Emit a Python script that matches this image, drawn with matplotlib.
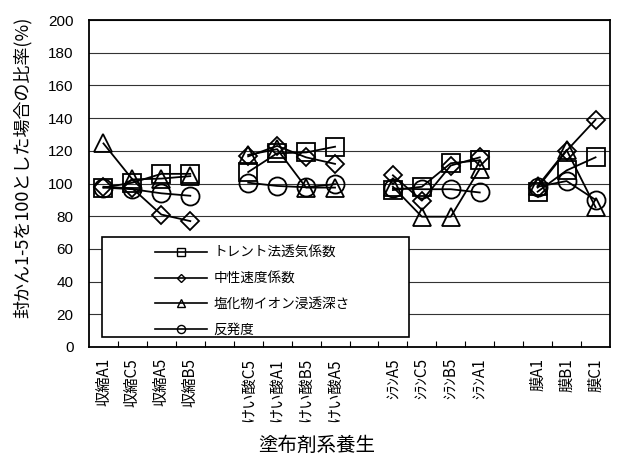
import numpy as np
import matplotlib
matplotlib.use("Agg")
import matplotlib.pyplot as plt
from matplotlib.patches import Rectangle

plt.rcParams['font.family'] = ['Liberation Sans', 'Noto Sans CJK JP', 'DejaVu Sans']

categories = ["収縮A1", "収縮C5", "収縮A5", "収縮B5", "",
              "けい酸C5", "けい酸A1", "けい酸B5", "けい酸A5", "",
              "ｼﾗﾝA5", "ｼﾗﾝC5", "ｼﾗﾝB5", "ｼﾗﾝA1", "",
              "膜A1", "膜B1", "膜C1"]
nan = np.nan
torrent = [97.5, 100.5, 105.9, 105.9, nan, 107, 118.5, 119, 122.5, nan,
           96, 98, 112.4, 114.2, nan, 95, 108, 116]
neutral = [98, 97, 81, 77, nan, 116.6, 123, 116, 112, nan,
           105, 89.5, 111, 116, nan, 97.5, 120, 139]
chloride = [124.5, 102.5, 103, 104.5, nan, 117.5, 121, 97.5, 97.5, nan,
            98, 79.7, 79.7, 109, nan, 98.5, 120.5, 85.5]
rebound = [97.5, 96.5, 94, 92.5, nan, 100.5, 98.5, 97.7, 99.6, nan,
           97, 96.5, 96.5, 94.5, nan, 98, 101.5, 90]
series_names = ["トレント法透気係数", "中性速度係数", "塩化物イオン浸透深さ", "反発度"]
yticks = [0, 20, 40, 60, 80, 100, 120, 140, 160, 180, 200]

fig = plt.figure(figsize=(6.19, 4.57), dpi=100)
ax = fig.add_axes([89/619, 1-347/457, 521/619, 327/457])

x = np.arange(len(categories))
styles = [('s', 13), ('D', 9), ('^', 13), ('o', 13)]
data = [torrent, neutral, chloride, rebound]
handles = []
for vals, (m, ms), name in zip(data, styles, series_names):
    ax.plot(x, vals, color='black', lw=1.3, marker=m, markersize=ms,
            markerfacecolor='none', markeredgecolor='black', markeredgewidth=1.3,
            zorder=3)
    h, = ax.plot([], [], color='black', lw=1.2, marker=m, markersize=ms*0.45,
                 markerfacecolor='none', markeredgecolor='black', markeredgewidth=1.0,
                 label=name)
    handles.append(h)

ax.set_xlim(-0.5, len(categories)-0.5)
ax.set_ylim(0, 200)
ax.set_yticks(yticks)
ax.set_yticklabels([str(v) for v in yticks], fontsize=11)
ax.tick_params(axis='y', length=0, pad=11)
ax.set_xticks(x)
ax.set_xticklabels(categories, rotation=90, fontsize=11, va='top',
                   family=['Noto Sans CJK JP'])
ax.tick_params(axis='x', which='major', length=0, pad=8)
ax.set_xticks(np.arange(len(categories)-1) + 0.5, minor=True)
ax.tick_params(axis='x', which='minor', direction='in', length=4, width=0.8)
ax.grid(axis='y', color='#333333', lw=0.8)
ax.set_axisbelow(True)
for s in ax.spines.values():
    s.set_linewidth(1.3)
    s.set_color('black')

# legend box
ax.add_patch(Rectangle((13/521, 10/327), 307/521, 100/327, transform=ax.transAxes,
                       facecolor='white', edgecolor='black', lw=1.2, zorder=4))
leg = ax.legend(handles=handles, loc='upper left', bbox_to_anchor=(66/521, 101/327),
                frameon=False, handlelength=3.8, handletextpad=0.5,
                labelspacing=0.85, borderpad=0, borderaxespad=0,
                prop={'family': ['Noto Sans CJK JP'], 'size': 9.8})
leg.set_zorder(5)

fig.text(22/619, 1-167/457, "封かん1-5を100とした場合の比率(%)", rotation=90,
         ha='center', va='center', fontsize=13, family=['Noto Sans CJK JP'])
fig.text(317/619, 1-445/457, "塗布剤系養生", ha='center', va='center',
         fontsize=14, family=['Noto Sans CJK JP'])

fig.savefig("out.png", dpi=100)
